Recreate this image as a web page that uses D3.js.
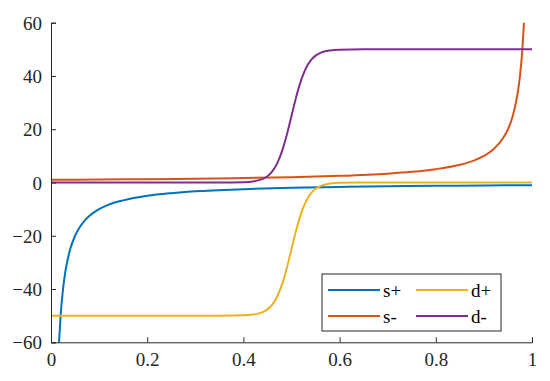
<!DOCTYPE html>
<html>
<head>
<meta charset="utf-8">
<script src="https://cdn.jsdelivr.net/npm/d3@7"></script>
<style>
  body { margin: 0; background: #fff; }
  svg { display: block; }
</style>
</head>
<body>
<div id="chart"></div>
<script>
// values
var xSPlus = [0.0167, 0.02, 0.025, 0.03, 0.035, 0.04, 0.05, 0.06, 0.07, 0.08, 0.1, 0.12, 0.15, 0.2, 0.25, 0.3, 0.4, 0.5, 0.6, 0.7, 0.8, 0.9, 1];
var sPlus  = [-60, -50, -40, -33.3, -28.6, -25, -20, -16.7, -14.3, -12.5, -10, -8.3, -6.7, -5, -4, -3.3, -2.5, -2, -1.67, -1.43, -1.25, -1.11, -1];

var xSMinus = [0, 0.1, 0.2, 0.3, 0.4, 0.5, 0.6, 0.7, 0.75, 0.8, 0.85, 0.88, 0.9, 0.92, 0.94, 0.95, 0.96, 0.97, 0.975, 0.98, 0.9833];
var sMinus  = [1, 1.11, 1.25, 1.43, 1.67, 2, 2.5, 3.33, 4, 5, 6.67, 8.33, 10, 12.5, 16.7, 20, 25, 33.3, 40, 50, 60];

var xD = [0, 0.1, 0.2, 0.3, 0.35, 0.4, 0.42, 0.44, 0.45, 0.46, 0.47, 0.48, 0.49, 0.5, 0.51, 0.52, 0.53, 0.54, 0.55, 0.56, 0.58, 0.6, 0.65, 0.7, 0.8, 0.9, 1];
var dPlus  = [-50, -50, -50, -50, -49.99, -49.88, -49.59, -48.67, -47.63, -45.84, -42.91, -38.43, -32.28, -25, -17.72, -11.57, -7.09, -4.16, -2.37, -1.33, -0.41, -0.12, 0, 0, 0, 0, 0];
var dMinus = [0, 0, 0, 0, 0.01, 0.12, 0.41, 1.33, 2.37, 4.16, 7.09, 11.57, 17.72, 25, 32.28, 38.43, 42.91, 45.84, 47.63, 48.67, 49.59, 49.88, 50, 50, 50, 50, 50];

var xTicks = [0, 0.2, 0.4, 0.6, 0.8, 1];
var yTicks = [-60, -40, -20, 0, 20, 40, 60];

var seriesNames = ["s+", "s-", "d+", "d-"];
var colors = ["#0072BD", "#D95319", "#EDB120", "#7E2F8E"];

var series = [
    {name: seriesNames[0], color: colors[0], pts: d3.zip(xSPlus, sPlus)},
    {name: seriesNames[1], color: colors[1], pts: d3.zip(xSMinus, sMinus)},
    {name: seriesNames[2], color: colors[2], pts: d3.zip(xD, dPlus)},
    {name: seriesNames[3], color: colors[3], pts: d3.zip(xD, dMinus)}
];

var W = 550, H = 381;
var margin = {top: 22.7, right: 18, bottom: 38.7, left: 51};
var width = W - margin.left - margin.right;
var height = H - margin.top - margin.bottom;
var axisColor = "#262626";
var font = "Liberation Serif";

var svg = d3.select("#chart").append("svg")
    .attr("width", W)
    .attr("height", H);

var g = svg.append("g")
    .attr("transform", "translate(" + margin.left + "," + margin.top + ")");

var x = d3.scaleLinear().domain([0, 1]).range([0, width]);
var y = d3.scaleLinear().domain([-60, 60]).range([height, 0]);

// lines
var line = d3.line()
    .x(function(d) { return x(d[0]); })
    .y(function(d) { return y(d[1]); })
    .curve(d3.curveMonotoneX);

g.selectAll(".series")
    .data(series)
    .enter()
    .append("path")
    .attr("class", "series")
    .attr("fill", "none")
    .attr("stroke", function(d) { return d.color; })
    .attr("stroke-width", 2)
    .attr("d", function(d) { return line(d.pts); });

// axes, ticks pointing inward
var xAxis = g.append("g")
    .attr("transform", "translate(0," + height + ")")
    .call(d3.axisBottom(x).tickValues(xTicks).tickSize(-5).tickPadding(10)
        .tickFormat(function(d) { return d3.format("")(d); }));

var yAxis = g.append("g")
    .call(d3.axisLeft(y).tickValues(yTicks).tickSize(-5).tickPadding(9));

[xAxis, yAxis].forEach(function(a) {
    a.attr("font-family", font).attr("font-size", 19);
    a.select(".domain").attr("stroke", axisColor).attr("stroke-width", 1);
    a.selectAll(".tick line").attr("stroke", axisColor);
    a.selectAll(".tick text").attr("fill", "#262626");
});
yAxis.selectAll(".tick text").attr("dy", "0.35em");
xAxis.selectAll(".tick text").attr("dy", "0.71em");

// legend (two columns, MATLAB style)
var legend = svg.append("g")
    .attr("font-family", font)
    .attr("font-size", 19)
    .attr("transform", "translate(322,274)");

legend.append("rect")
    .attr("width", 179)
    .attr("height", 57)
    .attr("fill", "#fff")
    .attr("stroke", axisColor)
    .attr("stroke-width", 1);

var items = legend.selectAll(".item")
    .data(series)
    .enter()
    .append("g")
    .attr("class", "item")
    .attr("transform", function(d, i) {
        var col = Math.floor(i / 2), row = i % 2;
        return "translate(" + (6 + col * 88) + "," + (16 + row * 26) + ")";
    });

items.append("line")
    .attr("x1", 0).attr("x2", 52)
    .attr("stroke", function(d) { return d.color; })
    .attr("stroke-width", 2);

items.append("text")
    .attr("x", 55)
    .attr("dy", "0.35em")
    .attr("fill", "#000")
    .text(function(d) { return d.name; });
</script>
</body>
</html>
